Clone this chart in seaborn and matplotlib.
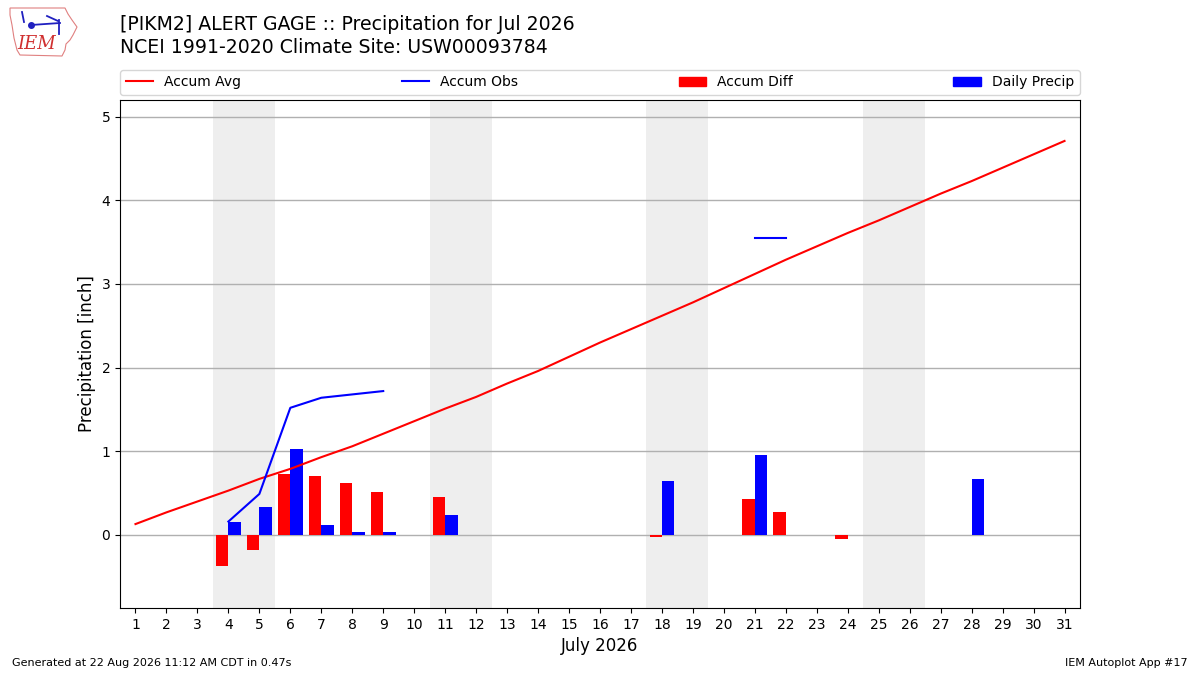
import numpy as np
import pandas as pd
import matplotlib
matplotlib.use("Agg")
import matplotlib.pyplot as plt
import seaborn as sns
from matplotlib.lines import Line2D
from matplotlib.patches import Patch, Polygon

nan = np.nan
days = list(range(1, 32))
accum_avg = [0.13, 0.27, 0.40, 0.53, 0.67, 0.79, 0.93, 1.06, 1.21, 1.36,
             1.51, 1.65, 1.81, 1.96, 2.13, 2.30, 2.46, 2.62, 2.78, 2.95,
             3.12, 3.29, 3.45, 3.61, 3.76, 3.92, 4.08, 4.23, 4.39, 4.55, 4.71]
accum_obs = [nan, nan, nan, 0.16, 0.49, 1.52, 1.64, 1.68, 1.72, nan,
             1.96, nan, nan, nan, nan, nan, nan, 2.60, nan, nan,
             3.55, 3.55, nan, 3.56, nan, nan, nan, nan, nan, nan, nan]
accum_diff = [nan, nan, nan, -0.37, -0.18, 0.73, 0.71, 0.62, 0.51, nan,
              0.45, nan, nan, nan, nan, nan, nan, -0.03, nan, nan,
              0.43, 0.27, nan, -0.05, nan, nan, nan, nan, nan, nan, nan]
daily_precip = [nan, nan, nan, 0.16, 0.33, 1.03, 0.12, 0.04, 0.04, nan,
                0.24, nan, nan, nan, nan, nan, nan, 0.64, nan, nan,
                0.96, 0.0, nan, nan, nan, nan, nan, 0.67, nan, nan, nan]
weekend_starts = [4, 11, 18, 25]

title = "[PIKM2] ALERT GAGE :: Precipitation for Jul 2026\nNCEI 1991-2020 Climate Site: USW00093784"

df = pd.DataFrame({"day": days, "avg": accum_avg, "obs": accum_obs,
                   "diff": accum_diff, "precip": daily_precip})
df["seg"] = df["obs"].isna().cumsum()

fig = plt.figure(figsize=(12, 6.75), dpi=100)
ax = fig.add_axes([0.1, 0.0993, 0.8, 0.7526])

for s in weekend_starts:
    ax.axvspan(s - 0.5, s + 1.5, color="#eeeeee", zorder=0, lw=0)

ax.grid(axis="y", color="#b0b0b0", lw=1, zorder=1)
ax.set_axisbelow(True)

sns.lineplot(data=df, x="day", y="avg", color="red", lw=1.5, ax=ax, zorder=3)
obs_df = df.dropna(subset=["obs"])
sns.lineplot(data=obs_df, x="day", y="obs", units="seg", estimator=None,
             color="blue", lw=1.5, ax=ax, zorder=3)

ax.bar(df["day"], df["diff"], width=-0.4, align="edge", color="red", zorder=2)
ax.bar(df["day"], df["precip"], width=0.4, align="edge", color="blue", zorder=2)

ax.set_xlim(0.5, 31.5)
ax.set_ylim(-0.873, 5.2)
ax.set_xticks(days)
ax.set_xticklabels([str(d) for d in days], fontsize=10)
ax.set_yticks([0, 1, 2, 3, 4, 5])
ax.tick_params(axis="y", labelsize=10)
ax.set_xlabel("July 2026", fontsize=12)
ax.set_ylabel("Precipitation [inch]", fontsize=12)

handles = [Line2D([], [], color="red", lw=1.5), Line2D([], [], color="blue", lw=1.5),
           Patch(color="red"), Patch(color="blue")]
labels = ["Accum Avg", "Accum Obs", "Accum Diff", "Daily Precip"]
ax.legend(handles, labels, ncol=4, mode="expand", loc="lower left",
          bbox_to_anchor=(0, 1.01, 1, 0.05), fontsize=10, borderaxespad=0)

fig.text(0.1, 0.947, title, fontsize=13.6, va="center", ha="left", linespacing=1.3)

# IEM logo (approximate)
W, H = 1200.0, 675.0
outline_px = [(10, 8), (65, 8), (68, 14), (72, 20), (77, 27), (73, 35), (70, 40),
              (66, 44), (65, 50), (62, 56), (20, 55), (17, 50), (14, 38), (12, 25), (10, 15)]
fig.patches.append(Polygon([(x / W, 1 - y / H) for x, y in outline_px], closed=True,
                           fill=False, edgecolor="#e08080", lw=0.8,
                           transform=fig.transFigure, figure=fig))
for (x0, y0), (x1, y1) in [((31, 25), (60, 23)), ((47, 16), (58, 21)), ((59, 20), (59, 34)),
                           ((22, 12), (24, 22))]:
    fig.add_artist(Line2D([x0 / W, x1 / W], [1 - y0 / H, 1 - y1 / H], color="#2020c0",
                          lw=1.3, transform=fig.transFigure))
fig.add_artist(Line2D([31 / W], [1 - 25 / H], marker="o", ms=4, color="#2020c0",
                      transform=fig.transFigure))
fig.text(37 / W, 1 - 44 / H, "IEM", fontsize=13, color="#d03030", family="DejaVu Serif",
         style="italic", ha="center", va="center")

fig.text(0.01, 0.014, "Generated at 22 Aug 2026 11:12 AM CDT in 0.47s", fontsize=8)
fig.text(0.99, 0.014, "IEM Autoplot App #17", fontsize=8, ha="right")

fig.savefig("out.png", dpi=100)
